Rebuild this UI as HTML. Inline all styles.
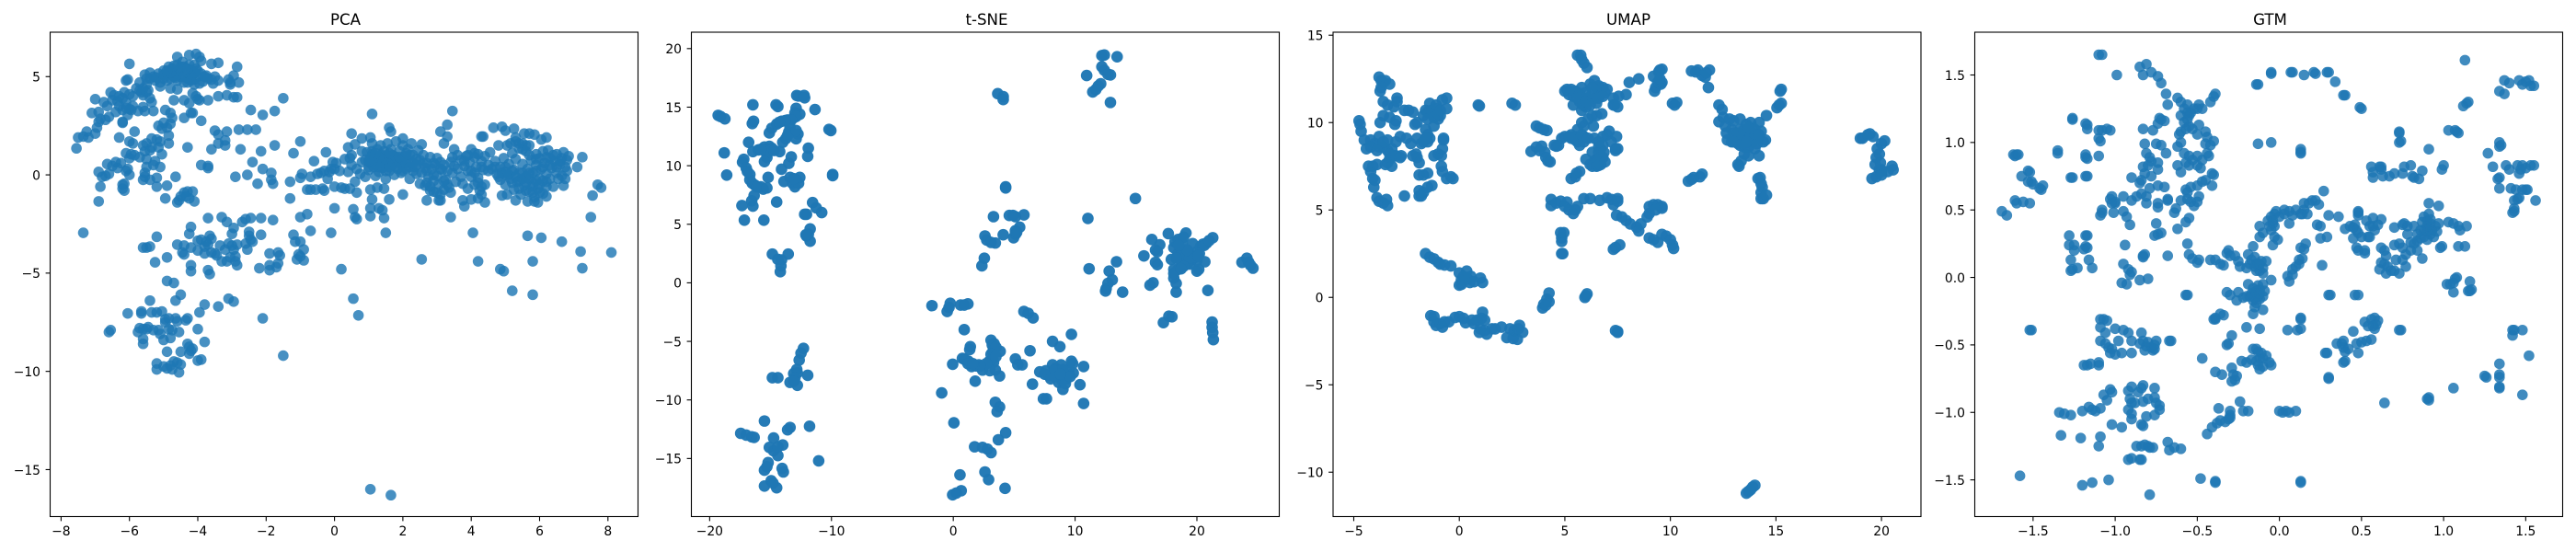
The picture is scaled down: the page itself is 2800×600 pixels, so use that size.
<!DOCTYPE html>
<html lang="en">
<head>
<meta charset="utf-8">
<title>Dimensionality reduction comparison</title>
<style>
html,body{margin:0;padding:0;background:#fff;}
svg{display:block;}
text{font-family:"DejaVu Sans","Liberation Sans",sans-serif;fill:#000;}
.title{font-size:16.67px;text-anchor:middle;}
.tick{font-size:13.89px;}
</style>
</head>
<body>
<svg id="chart" xmlns="http://www.w3.org/2000/svg" width="2800" height="600" viewBox="0 0 2800 600">
<rect x="0" y="0" width="2800" height="600" fill="#fff"/>
<text class="title" x="375.5" y="26.8">PCA</text>
<text class="title" x="1072.5" y="26.8">t-SNE</text>
<text class="title" x="1770" y="26.8">UMAP</text>
<text class="title" x="2467.5" y="26.8">GTM</text>
</svg>
<script>
const pcaXTicks = [-8,-6,-4,-2,0,2,4,6,8];
const pcaYTicks = [5,0,-5,-10,-15];
const tsneXTicks = [-20,-10,0,10,20];
const tsneYTicks = [20,15,10,5,0,-5,-10,-15];
const umapXTicks = [-5,0,5,10,15,20];
const umapYTicks = [15,10,5,0,-5,-10];
const gtmXTicks = [-1.5,-1,-0.5,0,0.5,1,1.5];
const gtmYTicks = [1.5,1,0.5,0,-0.5,-1,-1.5];

const pcaPoints = [
[-7.55,1.35],[-7.5,1.9],[-7.35,1.95],[-7.25,2.2],[-7.2,1.9],[-7,2.1],[-6.95,2.4],[-6.9,2.7],[-6.85,2.85],[-7.1,3.15],[-6.9,3.2],[-7,3.85],[-6.75,3.7],[-6.65,3.5],[-6.6,2.95],[-6.7,2.8],[-6.55,4.2],[-6.45,4.05],[-6.35,3.75],[-6.4,3.2],[-6.2,3.9],[-6.15,4.2],[-6.1,3.7],[-6.2,3.3],[-6.05,3.05],[-6,3.35],[-5.95,3.3],[-6.2,2.7],[-6.2,2.65],[-6.1,4.8],[-6.05,4.85],[-6,5.65],[-5.8,4.4],[-5.7,4.7],[-5.65,4.2],[-5.6,4.05],[-5.5,4.6],[-5.45,4.3],[-5.4,3.9],[-5.35,3.7],[-5.6,3.45],[-5.55,3.25],[-5.3,3.25],[-5.75,3.25],
[-6.5,3.8],[-6.3,3.5],[-6.1,3.4],[-5.9,3.5],[-5.9,4],[-5.7,4.3],[-5.5,4.2],[-6.3,4],[-6,4.1],[-5.6,4.4],
[-5.55,5.1],[-5.5,4.9],[-5.4,5.2],[-5.3,5],[-5.25,4.8],[-5.15,5.15],[-5.1,4.7],[-5,5.3],[-4.9,5.1],[-4.85,5.5],[-4.8,4.9],[-4.75,5.4],[-4.7,5.2],[-4.65,4.95],[-4.6,5.6],[-4.55,5.3],[-4.5,5],[-4.45,5.75],[-4.4,5.5],[-4.35,5.2],[-4.3,4.9],[-4.25,5.6],[-4.2,5.35],[-4.15,5.1],[-4.1,4.85],[-4.05,5.4],[-4,5],[-3.9,5.15],[-3.85,4.75],[-3.75,5.05],[-3.6,4.85],[-3.55,4.65],[-4.6,6],[-4.25,6.1],[-4.05,6.15],[-3.95,6],[-3.9,5.8],[-3.6,5.65],[-3.4,5.7],[-2.85,5.5],[-3.1,4.85],[-3.05,4.6],[-2.95,5.05],[-2.8,4.7],[-3.05,4.7],[-4.3,4.7],[-4.6,4.35],[-4.8,4.4],[-5.1,4.5],[-4.1,4.6],[-3.95,4.65],[-4.15,4.15],[-4.05,4],[-3.95,3.8],[-3.4,4],[-3.15,4.05],[-2.95,3.95],[-2.85,3.95],[-3.7,3.8],[-4.7,3.8],[-4.4,3.8],[-4.25,3.65],[-4,3.85],[-2.45,3.3],[-2.1,3.05],[-1.75,3.25],[-1.5,3.9],
[-5.4,4.9],[-5.2,4.95],[-5,4.9],[-5,5.1],[-4.9,4.8],[-4.7,5],[-4.6,5.1],[-4.6,4.8],[-4.4,5],[-4.4,4.7],[-4.2,5],[-4.2,4.8],[-4.1,5.2],[-4,5.3],[-3.8,5],[-3.7,4.9],[-4.8,5.2],[-4.5,5.5],[-4.3,5.4],[-4.1,5.6],[-4.7,5.55],[-4.9,5.3],[-3.5,5],[-3.4,4.8],
[-4.95,3.3],[-4.8,3.15],[-4.75,2.9],[-4.8,2.6],[-5,2.65],[-5.15,2.5],[-5.05,2.35],[-4.9,2.4],[-4.85,2],[-4.85,1.6],[-4.15,3.15],[-4.2,3.15],[-4.4,2.9],[-3.9,2.75],[-3.5,2.25],[-3.4,2.05],[-3.15,2.2],[-2.8,2.3],[-2.55,2.3],[-2.3,2.3],[-3.4,1.6],[-3.2,1.5],[-3.2,1.75],[-3.6,1.3],[-2.75,1.3],[-2.15,1.2],[-1.75,1.5],[-4.3,1.4],[-5.35,1.85],[-5.2,1.8],[-5.1,1.7],[-5.35,1.4],[-5.15,1.4],[-5.5,1.6],[-5.4,1.25],[-5.6,1.5],[-5.55,1.2],[-5.9,1.6],[-5.95,1.05],[-6.1,1.1],[-6,0.85],[-5.85,1],[-5.7,0.9],[-5.5,0.8],[-5.25,0.7],[-5.3,0.5],[-5.05,1.05],[-5.1,0.4],[-5.5,0.4],[-5.55,0.1],[-5.55,-0.1],[-5.6,-0.25],[-5.4,-0.25],[-5.2,-0.15],[-5.2,-0.6],[-4.9,-0.55],[-4.65,-0.1],[-6.05,0.3],[-6,0],[-6.1,0.2],[-6.25,0.6],[-6.4,0.65],[-6.35,0.35],[-6.5,0.45],[-6.65,0.55],[-6.6,0.05],[-6.7,-0.05],[-6.8,-0.1],[-6.9,0.15],[-6.85,-0.6],[-6.9,-1.35],[-6.2,-0.5],[-6.2,-0.7],[-6.15,-0.8],[-6.15,-0.45],[-6.3,1.9],[-6,1.7],[-5.85,2.2],
[-4.95,-1.2],[-4.6,-1.4],[-4.55,-1.3],[-4.5,-1.1],[-4.4,-0.9],[-4.3,-0.85],[-4.25,-1.2],[-4.15,-0.85],[-4.1,-1.35],[-4.35,-1.1],[-3.9,0.5],[-3.7,0.45],[-3.7,0.35],
[-2.9,-0.1],[-2.55,0],[-2.4,0.65],[-2.1,0.3],[-1.85,0.1],[-1.85,-0.25],[-1.8,-0.45],[-2.25,-0.45],[-1.3,-0.35],[-1.3,-1.2],[-1.2,1.1],[-1,-0.15],[-0.95,0.05],[-1,1.7],[-0.8,-0.75],[-0.7,-0.75],[-0.6,0.7],[-0.55,-0.75],[-0.7,-0.1],[-0.5,0.05],[-0.4,0.1],[-0.35,-0.7],[-0.3,0.2],[-0.25,1.15],[-0.3,-0.8],[-0.2,-0.2],[-0.15,0.15],[-0.1,0.3],[0,0.3],[0.05,0.6],[-0.05,0.65],[0,-0.6],[0.15,0.2],[0.2,-0.65],[0.3,0.8],[0.3,-0.7],[0.4,0.15],[0.45,0.85],[0.45,-0.7],[0.5,0.5],[0.5,1],[0.4,1.4],[0.5,2.1],[0.6,1.55],[0.65,0.3],[0.6,-0.35],[0.65,-0.9],[0.75,0.05],[0.8,0.65],[0.8,1.85],[0.8,1.2],[0.9,-0.1],
[1,0.4],[1.05,0.9],[1.05,1.9],[1.1,1.6],[1.1,3.1],[1.1,1.2],[1.05,-0.75],[1.1,-1.25],[1.05,-1.7],[1.05,-2.1],[1.25,-0.65],[1.3,-1.7],[1.45,-0.7],
[0.9,0.75],[0.95,1.15],[1,0.25],[1.05,0.6],[1.1,1.05],[1.15,0.4],[1.2,0.8],[1.2,-0.05],[1.25,1.3],[1.3,0.6],[1.3,0.15],[1.35,1],[1.35,1.5],[1.4,0.35],[1.45,0.75],[1.45,1.2],[1.5,-0.2],[1.5,0.5],[1.55,1.6],[1.55,1],[1.6,0.2],[1.6,0.75],[1.6,2.4],[1.65,2.2],[1.65,1.3],[1.7,0.5],[1.75,0],[1.75,0.95],[1.8,1.7],[1.85,0.3],[1.85,0.7],[1.9,1.2],[1.95,0.1],[2,0.55],[2,1.5],[2,1.85],[2.05,0.95],[2.1,0.3],[2.15,1.3],[2.2,0.7],[2.2,-0.2],[2.25,1.6],[2.3,1],[2.35,0.4],[2.4,0.05],[2.45,1.25],[2.5,0.75],[2.5,-0.45],[2.55,1.55],[2.6,1],[2.65,0.35],[2.65,-0.55],[2.55,0.1],
[1.2,0.5],[1.4,0.6],[1.4,1],[1.5,0.8],[1.5,0.2],[1.6,0.4],[1.7,1],[1.7,0.7],[1.8,0.4],[1.8,0.9],[1.9,0.6],[1.9,0.9],[2,0.2],[2,0.8],[2.1,0.6],[2.1,1.1],[2.2,0.4],[2.2,1],[2.3,0.6],[2.3,0.2],[1.3,0.9],[1.1,0.7],[1.3,0.4],[1.6,1.1],[1,0.7],[1.2,1.1],[2.4,0.8],[2.4,0.5],[2.6,0.6],[2.7,0.2],[2.9,0.6],[3.1,0.3],[2.7,-0.4],[2.9,0],[3.2,0.5],
[2.7,0.6],[2.75,-0.1],[2.8,-0.6],[2.8,0.9],[2.85,0.3],[2.9,-0.3],[2.9,-0.85],[2.95,0.5],[3,0.85],[3,-0.05],[3.05,-0.5],[3.1,-1],[3.1,0.65],[3.15,0.25],[3.2,-0.75],[3.25,-0.25],[3.3,0.2],[3.35,-0.65],[3.4,0.65],[3.4,-0.9],[3.45,0.9],[3.45,0.1],[3.5,1.3],[3.5,0.45],[3.55,-0.35],
[3.6,1],[3.6,0.3],[3.7,-0.1],[3.7,0.75],[3.75,-0.45],[3.8,0.45],[3.85,0.95],[3.9,0.2],[3.9,-0.7],[3.95,0.65],[4,1.3],[4,-0.1],[4.1,0.9],[4.1,-0.5],[4.15,0.4],[4.2,1.05],[4.2,-0.15],[4.25,-0.8],[4.3,0.7],[4.3,-1],[4.35,0.25],[4.4,0.95],[4.4,-0.5],[4.5,0.5],[4.55,1.15],[4.6,0.3],[4.7,0.7],[4.75,0.05],[4.8,1.5],[4.85,0.4],[4.85,-0.25],[4.9,-1.05],[4.95,0.85],[5,0.15],[5,-0.5],[5.05,1.5],[5.05,-1],[5.1,0.55],[5.15,1.6],[5.15,-0.2],[5.2,1.1],[5.25,0.25],[5.25,-0.75],[5.3,0.8],[5.3,1.7],[5.35,-0.35],[5.4,1.35],[5.4,0.1],[5.45,-1],[5.5,0.55],[5.5,1.6],[5.55,-0.55],[5.6,1.2],[5.6,-0.1],[5.65,0.3],[5.7,-0.85],[5.7,1.5],[5.75,0.75],[5.8,-0.4],[5.8,0.1],[5.85,-1.15],[5.9,1.05],[5.9,0.5],[5.95,-0.7],[6,-0.2],[6,0.85],[6.05,0.3],[6.1,-0.95],[6.1,1.2],[6.15,0.6],[6.2,-0.35],[6.2,0.05],[6.25,1.25],[6.3,0.85],[6.35,0.35],[6.4,-0.6],[6.45,0.7],[6.5,1.05],[6.5,0.1],[6.55,-0.2],[6.6,0.55],[6.65,0.85],[6.7,1.15],[6.75,-0.2],[6.8,0.75],[6.85,0.95],[6.65,-0.05],[6.75,0.4],
[3.8,0.7],[3.9,1],[4.1,1.1],[4.3,0.4],[4.5,0.2],[4.7,0.4],[4.9,0.1],[5,0.4],[5.1,0],[5.2,0.2],[5.3,-0.1],[5.4,-0.3],[5.5,-0.2],[5.6,-0.4],[5.7,-0.2],[5.8,-0.6],[5.9,-0.3],[6,-0.5],[6.1,-0.3],[6.2,-0.6],[6.3,-0.2],[5.5,0.1],[5.7,0.1],[5.9,0.2],[6.1,0.4],[6.3,0.5],[6.5,0.4],[5.5,1.3],[5.6,1.5],[5.4,1.6],[5.7,1],[5.9,0.8],[6.2,0.9],[6.4,1],[6.6,0.7],[5.2,-0.4],[5.4,-0.7],[5.6,-0.8],[5.8,-0.9],[6,-0.9],[5,0],[4.8,-0.1],[3.3,-0.5],[3.2,-0.3],[2.8,-0.8],[3,-0.9],[4.3,-0.6],[4.2,-0.4],[4.1,0.1],[4,0.2],
[3.45,3.25],[3.3,2.55],[3.1,2.2],[3.3,1.95],[3.2,1.6],[4.3,1.95],[4.35,1.95],[4.65,2.4],[4.9,2.45],[5,2.25],[5.25,2.35],[5.55,2.1],[5.7,2.1],[5.85,2.05],[6.05,1.8],[6.2,1.9],[5.3,1.9],
[3.4,-2.15],[4.05,-2.95],[5.65,-3.1],[6.05,-3.2],[6.65,-3.4],[7.2,-3.9],[8.1,-3.95],[7.25,-4.75],[5.8,-4.4],[4.2,-4.4],[4.85,-4.8],[4.95,-4.9],[5.2,-5.9],[5.8,-6.1],[2.55,-4.3],[0.2,-4.8],[0.55,-6.3],[0.7,-7.15],[-1.5,-9.2],[1.05,-16],[1.65,-16.3],[-7.35,-2.95],[-0.1,-2.95],[1.5,-2.95],[0,-1.7],[0.55,-1.75],[0.6,-2.15],[0.65,-2.25],[1.4,-1.8],[1.45,-2.2],[1.6,-1.25],[2,-1],[2.7,-1.3],[3.05,-1.3],[3.1,-1.3],[3.75,-1.3],[3.8,-1.6],[4,-1.25],[4.2,-1.2],[4.4,-1.4],[5.3,-1.3],[5.65,-1.35],[5.85,-1.35],[5.95,-1.4],[6.2,-1.1],[6.7,-0.55],[6.8,0.2],[7.1,0.4],[7.25,0.9],[7.5,-2.15],[7.55,-1.05],[7.7,-0.5],[7.8,-0.65],[-0.8,-2],[-1,-2.15],[-0.7,-2.85],
[-3.7,-2.2],[-3.3,-2.15],[-3.15,-2.4],[-2.95,-2.7],[-3,-3],[-2.7,-2.4],[-2.6,-2.25],[-2.45,-2.2],[-2.15,-2.2],[-1.8,-2.3],[-2.15,-3.05],[-2.5,-2.9],[-2.5,-3.1],[-2.45,-3.3],[-2.4,-3.4],[-2.6,-3.5],[-2.55,-3.8],[-4.2,-2.65],[-4.25,-3],[-4.6,-3.55],[-4.4,-3.6],[-4.45,-3.95],[-4.4,-4.05],[-4.2,-3.7],[-4,-3.85],[-4,-3.35],[-3.9,-3.3],[-3.75,-3.4],[-3.65,-3.1],[-3.6,-3.25],[-3.7,-3.55],[-3.8,-3.65],[-3.8,-4],[-3.6,-3.95],[-3.5,-4],[-3.45,-4.1],[-3.35,-3.6],[-3.2,-3.8],[-3.1,-3.5],[-3,-3.6],[-2.95,-3.8],[-2.85,-3.55],[-3.05,-4.2],[-3.15,-4.4],[-3.3,-4.4],[-2.9,-4.4],[-2.85,-4.6],[-2.9,-4.15],[-1.9,-4],[-1.65,-3.95],[-1.6,-4.1],[-2.2,-4.75],[-1.9,-4.6],[-1.9,-4.85],[-1.7,-4.7],[-1.65,-4.5],[-1.2,-3.05],[-1.15,-3.4],[-1,-3.4],[-0.9,-3.8],[-1.05,-4.05],[-1.1,-4.3],[-1,-4.15],[-0.9,-4.35],
[-4.2,-4.6],[-4.2,-4.9],[-3.7,-4.85],[-3.65,-5.05],[-5.6,-3.7],[-5.5,-3.7],[-5.4,-3.65],[-5.2,-3.15],[-5.25,-4.45],[-4.9,-4.2],[-4.9,-5.4],[-4.7,-5.5],[-4.65,-6.4],[-4.5,-6.1],[-5.4,-6.4],[-3.8,-6.6],[-3.4,-6.7],[-3.1,-6.3],[-2.95,-6.45],[-2.1,-7.3],[-3.95,-7],
[-6.05,-7.05],[-5.65,-6.95],[-5.65,-7.05],[-5.35,-7],[-5.2,-7],[-5.05,-6.95],[-4.95,-7.35],[-4.95,-7.5],[-4.85,-7.3],[-4.65,-7.3],[-4.6,-7.45],[-4.35,-7.4],[-4.3,-7.3],[-4,-7.85],[-6.6,-8],[-6.55,-7.9],[-5.75,-8],[-5.7,-7.8],[-5.6,-7.85],[-5.5,-7.85],[-5.45,-7.75],[-5.3,-7.9],[-5.15,-7.9],[-5.1,-8.1],[-5,-8.4],[-4.85,-7.85],[-4.8,-8.3],[-4.75,-7.9],[-4.55,-8],[-5.6,-8.35],[-5.6,-8.6],[-3.8,-8.5],[-4.9,-9],[-4.5,-9],[-4.3,-8.6],[-4.25,-8.75],[-4.2,-8.95],[-4.15,-8.85],[-4.25,-9.1],[-5.2,-9.6],[-5.2,-9.9],[-5,-9.75],[-4.9,-9.85],[-4.8,-9.7],[-4.75,-9.9],[-4.7,-9.5],[-4.6,-9.55],[-4.5,-9.65],[-4.55,-10.05],[-4,-9.45],[-3.9,-9.4]
];

const tsnePoints = [
[-19.3,14.3],[-19.1,14.2],[-18.75,14],[-18.8,11.1],[-18.6,9.2],[-16.45,15.2],[-16.5,13.6],[-16.4,13.8],[-14.55,15.2],[-14.4,15.05],[-12.85,16],[-12.7,15.95],[-12.25,16],[-12.2,15.8],[-11.35,14.8],[-12.9,14.9],[-12.6,14.4],[-13.1,14.1],[-13.6,13.9],[-14.1,13.8],[-14.5,13.55],[-14.9,13.2],[-15.1,12.8],[-13.4,13.3],[-13.5,12.9],[-12.75,12.7],[-12.9,12.3],[-13.75,12.3],[-14,12],[-10.2,13.1],[-10.05,13],[-16.8,12],[-16.45,11.2],[-16,11.35],[-15.5,11.6],[-15.1,11.65],[-14.9,11.5],[-15.6,11.35],[-15.3,11],[-14.25,11.2],[-11.9,11.5],[-11.95,10.8],[-13.3,10.75],[-13.5,10.2],[-14.1,9.7],[-15.3,10.7],[-15.5,10.35],[-17.2,10.55],[-17.3,10.3],[-17,9.8],[-16.7,9.25],[-16.7,8.8],[-16.3,8.35],[-15.8,8.2],[-15.6,8],[-15.2,9],[-13.9,8.65],[-13.4,9],[-12.9,8.8],[-12.6,9],[-13,8.2],[-9.9,9.25],[-9.9,9.15],[-16.35,7.45],[-16.55,7],[-16.45,6.55],[-17.35,6.6],[-17.15,5.35],[-15.55,5.35],[-14.5,6.9],[-11.55,6.85],[-11.25,6.4],[-10.8,6],[-12.05,5.85],[-12.2,5.85],[-11.75,4.6],[-11.9,4.15],[-12.05,4],[-11.75,3.55],[-14.85,2.45],[-13.55,2.45],[-14.1,1.95],[-14.15,1.45],[-14.2,0.95],[-14.4,2],
[-15,11.3],[-15.8,11.4],[-14.7,11.3],[-16.9,9.5],[-16.5,8.5],[-16.1,8.2],[-13.2,8.5],[-13,14.5],[-12.9,14.2],[-13.3,13.9],[-13.8,13.85],[-14.3,13.7],[-13.6,12.6],[-12.9,13],[-12.7,8.5],[-15.3,8.1],[-13.1,8.9],[-12.1,4.1],
[3.65,16.15],[4.1,15.9],[4.1,15.65],[4.3,8.2],[4.3,8.1],[3.3,5.65],[4.6,5.75],[5.1,5.65],[5.8,5.8],[5.45,4.75],[5.1,4.45],[5.1,4.15],[4.95,3.85],[4.1,4.1],[2.6,4],[2.75,3.65],[3.1,3.45],[3.45,3.4],[2.55,2.1],[2.35,1.45],[4.9,5.75],[5.2,4.3],
[10.95,17.7],[12.2,19.4],[12.4,19.45],[13.45,19.3],[12.2,18.45],[12.4,18.15],[12.9,17.75],[12.1,17],[11.9,16.8],[11.45,16.3],[12.9,15.4],[12.7,17.8],[11.7,16.5],
[14.95,7.2],[11.05,5.5],[11.15,1.2],[13.4,1.8],[12.8,1],[13.05,0.25],[12.7,-0.05],[12.55,-0.5],[12.5,-0.7],[13.9,-0.8],
[15.65,2.3],[16.3,3.7],[16.6,2.8],[16.95,3.25],[16.75,2.65],[16.6,1.75],[16.75,1.55],[16.15,-0.2],[16.4,0],[17.65,4.2],[17.9,2],[18.1,3],[18.45,3.7],[19.1,4.25],[18.8,3.4],[19.65,3.35],[18.45,2.5],[18.95,2.8],[19.1,2.2],[18.8,1.75],[19.45,1.6],[20,1],[20.15,1.15],[18.45,1.15],[18.1,1.15],[18.1,0.4],[18.3,-0.05],[18.3,-0.8],[20,1.9],[20.65,1.8],[20,2.65],[20.3,3.1],[20.8,3.4],[21.3,3.85],[20.9,-0.65],[18.6,2],[19.4,2.5],[19.6,2],[18.2,3.5],[18.9,3.9],[19.3,1.9],[18.7,2.3],[19.9,2.2],[20.5,3.3],[18.1,0.8],
[18.8,2.7],[18.9,2.1],[19.2,1.6],[19.4,2.1],[18.9,1.4],[19.2,2.8],[18.5,3.2],[18.3,2.1],[20.2,2.5],[20.1,2.3],[20.6,3.2],[21,3.6],[18.7,1.2],
[23.7,1.75],[24.1,2.1],[24.25,1.75],[24.6,1.25],[24.4,1.5],
[17.7,-2.85],[17.95,-2.9],[17.25,-3.4],[21.25,-3.35],[21.25,-3.8],[21.3,-4.25],[21.35,-4.85],
[-12.3,-5.6],[-12.5,-6],[-12.65,-6.6],[-12.85,-7.4],[-13.1,-7.75],[-12.8,-7.7],[-13,-8.1],[-11.95,-7.9],[-14.85,-8.1],[-14.4,-8.1],[-13.4,-8.5],[-12.8,-8.75],[-13.1,-8.4],
[-15.5,-11.8],[-11.8,-12.25],[-17.45,-12.85],[-16.55,-13.15],[-16.35,-13.2],[-13.4,-12.35],[-13.6,-12.55],[-14.75,-13.25],[-15.1,-14.05],[-14.75,-14.35],[-14,-13.85],[-14.4,-14.75],[-11.05,-15.2],[-15.2,-15.35],[-15.5,-16],[-14.05,-15.85],[-13.95,-16.15],[-15.5,-17.35],[-14.95,-16.9],[-14.5,-17.5],[-15.3,-15.7],[-14.8,-17.1],[-14.4,-14],[-17,-13],
[-1.75,-1.95],[-0.25,-1.75],[-0.5,-2.45],[-0.35,-2.1],[0.6,-1.9],[1.2,-1.8],[0.9,-1.9],[5.8,-2.45],[6.15,-2.6],[6.55,-3],[0.9,-4],[1.4,-5.45],[1.35,-5.7],[3.1,-4.9],[3.35,-5.2],[3.25,-5.9],[3.85,-5.85],[3.25,-6.5],[3.3,-6.8],[-0.05,-6.95],[0.75,-6.45],[1.25,-6.7],[1.5,-7.15],[2.1,-7],[2.4,-7.45],[2.95,-6.7],[3.45,-7.45],[3.8,-7.95],[1.8,-8.4],[-0.95,-9.4],[6.3,-5.8],[5.1,-6.5],[5.3,-7],[5.65,-7],[3,-7.5],[1,-6.6],[1.9,-7.1],[3.3,-5.6],
[3.2,-5.3],[3.5,-5.5],[3.1,-6.1],[3.5,-6.3],[2.7,-6.9],[2.2,-7.1],[1.7,-7],[0.9,-6.5],[1.2,-6.9],[1.6,-6.9],
[8.15,-5],[8.75,-5.45],[9.7,-4.4],[9.7,-6.7],[10.7,-7.15],[10.4,-8.7],[10.7,-10.3],[6.5,-8.65],[7.1,-7.6],[7.4,-9.9],[7.65,-9.9],[8.15,-7],[8.85,-7],[7.8,-7.9],[8.5,-7.9],[9.15,-7.75],[9.85,-7.7],[8.65,-8.5],[9,-9.1],[9.5,-7.4],[8.4,-7.3],[8.9,-8.3],[7.6,-7.5],[9.3,-8.2],[9.8,-6.9],
[8.3,-8],[8.7,-7.5],[8.3,-7.5],[9,-7.4],[7.5,-7.8],[8,-8.2],[9.2,-8.6],[9.6,-8],[8.8,-7.8],
[3.45,-10.2],[3.8,-10.6],[3.6,-11],[0.05,-11.95],[4.3,-12.8],[3.7,-13.4],[1.75,-14],[2.4,-14.05],[3.1,-14.5],[2.6,-16.15],[2.9,-16.8],[0.55,-16.4],[4.25,-17.55],[0.65,-17.75],[-0.05,-18.1],[0.25,-17.95],[2.8,-14.2]
];

const umapPoints = [
[-4.75,10.1],[-4.7,9.9],[-4.65,9.5],[-4.5,9],[-4.4,8.5],[-4.2,9],[-4,8.8],[-3.8,9.2],[-3.6,8.6],[-3.4,9],[-3.2,8.5],[-3,8.9],[-2.8,9.2],[-2.5,9.1],[-2.3,8.8],[-2,9.1],[-1.8,8.8],[-1.5,9.3],[-1.6,9.6],[-1.4,9.1],
[-4.2,8.6],[-3.8,8.6],[-3.4,8.4],[-3.6,8.9],[-3.9,8.4],[-3.3,8.2],[-3.4,7.7],[-3.1,8.1],[-1.3,10.5],[-1,10.2],[-0.9,10.4],[-1.5,10.6],[-1.1,10.8],[-1.7,8.9],[-1.5,8.9],[-1.6,9.1],
[-3.8,12.6],[-3.7,12.4],[-3.6,12.3],[-3.5,12.4],[-3.3,12.2],[-3.7,12],[-3.75,11.8],[-3.6,11.2],[-3.4,11],[-3.1,10.9],[-2.95,11.4],[-2.95,11.2],[-2.6,10.7],[-2.4,10.7],[-2.2,10.6],[-3.75,10],[-3.6,10.4],[-3.3,10.3],[-3,10.1],[-3.05,9.9],[-2.1,9.9],[-2,10],[-1.7,10.4],[-1.6,10.7],[-1.5,10.2],[-1.4,11.1],[-1.3,10.7],[-1.2,10.3],[-1.1,11],[-1,10.5],[-1.2,9.8],[-0.9,10.7],[-0.8,11.3],[-0.6,11.4],[-0.6,10.8],
[-4.3,7.5],[-4.2,7.2],[-4.1,7.5],[-4.1,6.8],[-4.05,6.3],[-4,6.7],[-3.9,5.7],[-3.8,5.5],[-3.6,5.4],[-3.45,5.6],[-3.4,5.25],[-2.6,5.8],[-3.9,7.6],[-3.5,7.6],[-3.3,7.9],[-3.2,7.5],[-3,8.1],[-2.8,8],[-2.75,8.1],[-2.2,8.1],[-2.05,8.2],[-2,8],[-1.9,7.7],[-1.9,7],[-1.7,7],[-1.5,7.1],[-1.9,6.1],[-1.8,5.8],[-1.9,5.8],[-1.7,6],[-1.5,6.3],[-1.3,6.4],[-1.2,8.1],[-1,8.2],[-0.85,8.1],[-0.8,8.5],[-0.75,9],[-0.75,9.1],[-0.85,7.5],[-0.8,7.2],[-0.6,6.8],[-0.4,6.9],[-0.3,6.8],
[0.9,11],[0.95,10.95],[2.5,11.1],[2.65,11],
[-1.6,2.5],[-1.4,2.3],[-1.2,2.2],[-1,2],[-0.9,1.9],[-0.7,1.85],[-0.4,1.8],[0,1.4],[0.1,1],[0,0.7],[0.1,0.75],[0.2,1.2],[0.35,1.5],[0.4,1.05],[0.5,0.85],[0.55,1.2],[0.7,0.9],[1,1.1],[1.1,0.85],
[-1.35,-1.05],[-1.2,-1.1],[-1.2,-1.4],[-1.1,-1.6],[-0.9,-1.5],[-0.8,-1.7],[-0.7,-1.4],[-0.5,-1.4],[-0.2,-1.15],[0,-1.1],[0.2,-1.2],[0.3,-1.45],[0.6,-1.3],[0.7,-1.5],[0.85,-1.3],[1,-1.8],[1.05,-1.2],[1.1,-0.85],[1.2,-1.3],[1.2,-1.9],[1.3,-2.1],[0.95,-2],[1.55,-1.8],[1.7,-1.8],[2,-1.7],[2.25,-2.3],[2.4,-1.8],[2.55,-2.35],[2.6,-1.9],[2.75,-2.4],[2.8,-1.8],[2.85,-1.6],[3,-2],
[3.95,-0.6],[4,-0.4],[4.1,-0.45],[4.15,-0.1],[4.25,-0.25],[4.25,0.25],[5.95,0],[6,0.1],[6.05,0.2],[7.4,-1.9],[7.5,-2],[7.5,-1.95],
[13.6,-11.2],[13.7,-11.1],[13.8,-11],[13.9,-10.85],[14,-10.75],
[4.35,5.6],[4.35,5.25],[4.6,5.4],[4.8,5.5],[5,5.2],[5.1,5.45],[5.2,5],[5.4,4.8],[5.5,5],[5.6,5.2],[5.9,5.65],[6.2,5.65],[6.65,5.55],[7,5.7],[7.2,5.6],[7.3,5.3],[7.5,5.65],[7.5,5.5],
[7.45,4.7],[7.7,4.6],[7.9,4.4],[8.1,4.2],[8.4,4],[8.5,3.8],[8.6,4.2],[8.9,4.6],[9,4.8],[9,5.2],[9.2,5.3],[9.4,5.3],[9.6,5.2],[9.6,5.1],[9.3,5],
[4.8,3.7],[4.85,3.4],[4.85,3.2],[4.95,3.7],[4.85,2.5],[4.9,2.5],[7.3,2.75],[7.4,2.85],[7.6,3],
[9,3.4],[9.2,3.3],[9.4,3.15],[9.6,3.6],[9.8,3.5],[10,3.3],[10.1,3],[10.15,2.8],
[5.6,13.85],[5.75,13.85],[5.8,13.6],[5.9,13.4],[6.05,13.15],
[5,11.8],[5.1,11.9],[5.2,11.6],[5.3,11.9],[5.4,11.5],[5.4,11],[5.6,11.7],[5.7,11.2],[5.8,10.7],[5.8,12],[5.95,11.7],[6,10.9],[6.1,11.4],[6.2,12.2],[6.3,10.4],[6.4,12.4],[6.4,11.4],[6.5,12],[6.5,11.1],[6.6,12.1],[6.65,11.6],[6.7,11.8],[6.8,12],[6.9,11.7],[7,11.9],[6.5,10.4],[6.75,10.5],[6.1,10.2],[6.35,9.8],[5.9,9.8],[5.8,10],
[5.5,11.8],[5.7,11.6],[5.9,11.4],[5.6,11.4],[5.85,11],[6,11.2],[6.2,11],[6.3,11.7],[6.3,12],[6.6,11.4],[6.8,11.5],[5.3,9.1],[5.5,9],[5.7,9.1],[5.9,9.2],[5.6,8.9],[6.7,8.5],[6.6,8.6],[6.5,7.9],[6.8,8],[6.4,7.8],
[7.3,11.4],[7.3,11],[7.35,11],[7.5,10.9],[7.55,11.5],[7.9,11.6],[8.05,12.3],[8.5,12.5],
[5,9.2],[4.85,9.1],[5.2,9.2],[5.3,9.3],[5.5,9.2],[5.6,9.6],[5.7,8.7],[5.8,9.3],[5.9,8.9],[6.1,9.1],[4.5,8.7],[4.6,8.65],[4.7,8.7],
[6,7.9],[6.2,7.6],[6.3,8.3],[6.3,7.5],[6.5,7.5],[6.6,8.3],[6.6,7.8],[6.6,7.55],[6.7,8],[6.8,8.7],[6.85,8.3],[6.7,7.6],[6.9,7.75],[6.4,9.1],[6.6,8.9],[6.8,9.2],[7,9.3],[7.1,9.5],[7.2,8.9],[7.4,8.5],[7.45,9.2],[7.5,8.5],[7.4,8.4],
[5.3,6.8],[5.5,6.9],[5.55,7.1],[5.7,7.2],
[3.65,9.8],[3.8,9.7],[4,9.6],[4.15,9.55],[3.4,8.35],[3.65,8.6],[3.8,8.4],[3.9,8.65],[4.05,8.3],[4.1,8],[4.2,7.8],[4.3,7.75],
[9.2,12.65],[9.45,12.9],[9.5,13],[9.6,13.05],[9.3,12],[9.25,11.8],[9.4,12.3],[9.55,12.2],[9.6,12.3],[9.5,12.5],
[10.1,11.1],[10.2,11],[10.3,11.15],[11,12.95],[11.2,12.9],[11.3,13],[11.5,12.7],[11.65,12.6],[11.7,12.85],[11.85,13],[11.8,12],
[12.3,11],[12.45,10.75],[12.3,10.05],[12.5,10.3],[12.6,9.8],[12.65,9.4],[12.7,9],[12.8,10.2],[12.9,9.6],[12.9,8.9],[13,10.1],[13.1,9.2],[13.2,8.8],[13.3,10.2],[13.3,9.6],[13.4,9],[13.5,8.6],[13.6,9.9],[13.6,9.3],[13.7,8.6],[13.8,10],[13.85,9.4],[13.9,8.9],[14,8.5],[14,9.6],[14.15,9.1],[14.2,10],[14.3,9.5],[14.4,8.9],[14.5,9],[14.55,10.4],[14.2,8.1],[13.7,8.1],[13.5,8.2],[13.35,7.8],[13.25,7.5],[13.2,7.6],
[13,9.4],[13.2,9.4],[13.4,9.3],[13.5,9.6],[13.7,9],[13.8,9.2],[14,9.2],[14.1,8.8],[13.9,9.7],[14.2,9.3],[13,8.9],[13.3,8.7],[13.6,8.9],[13.7,9.7],
[15.05,10.85],[15.15,11],[15.25,11.1],[15.2,11.8],[15.25,11.9],
[10.85,6.65],[11,6.75],[11.1,6.85],[11.4,6.9],[11.5,7.05],
[14.15,6.8],[14.25,6.85],[14.3,6.5],[14.35,6.3],[14.3,6],[14.3,5.65],[14.4,5.65],[14.55,5.85],
[19,9.1],[19.1,9.1],[19.35,9.3],[19.45,9.35],[19.6,9.2],[19.8,8.5],[19.75,8],[19.9,8.2],[20,8.8],[20.15,8.95],[19.7,7.6],[19.9,7.3],[19.95,7.7],[20,7.3],[19.55,6.8],[19.75,6.9],[20,7.2],[20,7],[20.5,7.5],[20.55,7.3],[20.3,7.2]
];

const gtmPoints = [
[-1.1,1.65],[-1.08,1.65],[-0.99,1.5],[-0.85,1.56],[-0.81,1.58],[-0.83,1.5],[-0.78,1.52],[-0.74,1.49],[-0.72,1.44],[-0.69,1.36],[-0.68,1.28],[-0.62,1.33],
[-0.6,1.3],[-0.58,1.25],[-0.56,1.28],[-0.55,1.2],[-0.6,1.2],[-0.58,1.15],[-0.52,1.25],[-0.5,1.25],[-0.49,1.28],[-0.47,1.25],[-0.57,1.1],[-0.6,1.08],[-0.55,1.12],[-0.53,1.1],[-0.49,1.13],[-0.56,1.22],[-0.56,1.17],[-0.54,1.22],
[-0.39,1.36],[-0.4,1.34],[-0.42,1.3],[-0.73,1.18],[-0.72,1.17],[-0.74,1.14],[-0.7,1.16],[-0.83,1.1],[-0.77,1.09],[-0.82,0.99],[-0.75,0.99],[-0.72,0.98],[-0.69,0.92],
[-0.5,1.06],[-0.45,1.08],[-0.44,1.04],[-0.4,1.01],[-0.45,0.99],[-0.42,0.98],[-0.61,1.06],[-0.6,1],[-0.62,0.97],
[-0.58,0.92],[-0.55,0.9],[-0.53,0.87],[-0.5,0.9],[-0.47,0.87],[-0.44,0.92],[-0.43,0.9],[-0.5,0.83],[-0.55,0.83],[-0.57,0.85],[-0.62,0.83],[-0.6,0.78],[-0.48,0.81],
[-0.81,0.92],[-0.79,0.89],[-0.78,0.86],[-0.8,0.83],[-0.83,0.82],[-0.82,0.77],[-0.84,0.72],[-0.85,0.7],[-0.78,0.75],[-0.74,0.85],[-0.74,0.8],[-0.84,0.62],[-0.79,0.66],[-0.81,0.6],[-0.81,0.55],[-0.87,0.6],[-0.9,0.57],[-0.74,0.55],[-0.74,0.52],[-0.74,0.68],[-0.7,0.67],[-0.68,0.58],[-0.68,0.57],
[-0.9,0.74],[-0.64,0.48],[-0.63,0.51],[-0.6,0.57],[-0.57,0.65],[-0.56,0.63],[-0.54,0.67],[-0.5,0.68],[-0.47,0.71],[-0.45,0.72],[-0.41,0.77],[-0.4,0.76],[-0.41,0.68],[-0.49,0.6],[-0.5,0.56],[-0.52,0.53],[-0.54,0.56],[-0.56,0.58],[-0.55,0.44],[-0.57,0.41],[-0.62,0.36],[-0.75,0.4],[-0.74,0.32],[-0.76,0.31],[-0.72,0.33],
[-1.03,0.58],[-1.02,0.6],[-1,0.56],[-0.95,0.6],[-1.01,0.48],[-1.08,0.48],[-1.09,0.46],[-1.08,0.5],[-0.95,0.49],[-0.93,0.45],[-0.91,0.39],[-1,0.55],[-1.02,0.55],
[-1.6,0.91],[-1.62,0.91],[-1.61,0.9],[-1.59,0.91],[-1.53,0.79],[-1.52,0.78],[-1.57,0.75],[-1.53,0.71],[-1.51,0.71],[-1.5,0.69],[-1.46,0.66],[-1.45,0.65],[-1.44,0.68],[-1.61,0.57],[-1.6,0.55],[-1.56,0.56],[-1.52,0.55],[-1.69,0.49],[-1.66,0.46],
[-1.35,0.94],[-1.35,0.92],[-1.26,1.17],[-1.26,1.18],[-1.18,1.14],[-1.17,1.13],[-1.17,1.1],[-1.26,0.74],[-1.27,0.74],[-1.17,0.75],[-1.18,0.75],[-1.18,0.91],[-1.18,0.89],[-1.17,0.88],[-1.1,0.9],[-1.1,1.09],[-1.08,1.09],[-1.05,1.1],[-1.03,1.09],[-1.1,1.03],[-1.09,1.01],
[-1.28,0.31],[-1.28,0.24],[-1.25,0.24],[-1.25,0.2],[-1.19,0.21],[-1.18,0.23],[-1.17,0.22],[-1.18,0.31],[-1.17,0.31],[-1.27,0.13],[-1.26,0.06],[-1.27,0.05],[-1.23,0.07],[-1.16,0.13],[-1.14,0.07],
[-0.94,0.24],[-0.95,0.1],[-0.92,0.06],[-0.91,0.02],[-0.9,0.04],[-0.96,-0.04],[-0.93,-0.05],[-0.85,-0.02],[-0.8,-0.01],[-0.83,0.16],[-0.82,0.17],[-0.83,0.15],[-0.68,0.16],
[-0.56,0.25],[-0.55,0.17],[-0.53,0.14],[-0.5,0.11],[-0.49,0.13],[-0.42,0.13],[-0.39,0.13],[-0.36,0.1],[-0.34,0.09],[-0.32,0.18],[-0.31,0.2],[-0.3,0.16],[-0.27,0.16],[-0.25,0.12],[-0.24,0.08],
[-0.19,0.17],[-0.17,0.13],[-0.18,0.1],[-0.15,0.15],[-0.15,0.08],[-0.13,0.1],[-0.12,0.05],[-0.11,0.12],[-0.1,0.07],[-0.08,0.12],[-0.1,0.03],[-0.14,0.05],[-0.2,0.07],[-0.16,0.23],[-0.14,0.1],[-0.12,0.1],
[-0.19,-0.05],[-0.16,-0.08],[-0.15,-0.11],[-0.13,-0.06],[-0.12,-0.09],[-0.1,-0.05],[-0.09,-0.1],[-0.05,-0.02],[-0.25,-0.11],[-0.22,-0.15],[-0.2,-0.14],[-0.18,-0.14],[-0.16,-0.17],[-0.14,-0.19],[-0.12,-0.16],[-0.15,-0.22],[-0.13,-0.14],[-0.1,-0.14],[-0.32,-0.11],[-0.3,-0.13],[-0.26,-0.17],[-0.16,-0.27],[-0.1,-0.24],[-0.14,-0.12],[-0.15,-0.15],[-0.14,-0.1],[-0.17,-0.12],[-0.12,-0.12],
[-0.4,-0.31],[-0.39,-0.3],[-0.36,-0.27],[-0.34,-0.28],[-0.39,-0.31],[-0.2,-0.37],[-0.12,-0.38],[-0.29,-0.43],[-0.31,-0.49],[-0.32,-0.5],
[-0.16,-0.53],[-0.14,-0.53],[-0.13,-0.55],[-0.11,-0.56],[-0.12,-0.6],[-0.1,-0.6],[-0.08,-0.58],[-0.06,-0.63],[-0.05,-0.65],[-0.13,-0.65],[-0.12,-0.68],[-0.1,-0.66],[-0.2,-0.63],[-0.17,-0.61],[-0.23,-0.62],[-0.14,-0.62],
[-0.47,-0.6],[-0.39,-0.7],[-0.35,-0.72],[-0.29,-0.67],[-0.28,-0.72],[-0.27,-0.76],[-0.29,-0.77],[-0.26,-0.73],[-0.24,-0.92],[-0.37,-0.97],[-0.3,-0.99],[-0.19,-0.99],[-0.22,-0.99],[-0.36,-1.06],[-0.33,-1.07],[-0.31,-1.05],[-0.3,-1.04],[-0.3,-1.02],[-0.38,-1.08],[-0.41,-1.11],[-0.44,-1.16],
[0,-0.99],[0.02,-1],[0.04,-0.99],[0.06,-1],[0.1,-0.99],
[-1.09,-0.31],[-1.07,-0.31],[-1.05,-0.32],[-1.09,-0.37],[-1.06,-0.41],[-1,-0.38],[-0.95,-0.39],[-0.9,-0.47],[-0.98,-0.47],[-0.92,-0.41],[-1.09,-0.47],[-1.06,-0.49],[-1.04,-0.52],[-1.02,-0.53],[-1.03,-0.56],[-1,-0.57],[-0.96,-0.56],[-0.9,-0.56],[-0.84,-0.41],[-0.85,-0.49],[-0.83,-0.47],[-0.81,-0.51],[-0.8,-0.48],[-0.78,-0.52],[-0.77,-0.54],[-0.75,-0.47],[-0.76,-0.5],[-0.67,-0.47],[-0.66,-0.47],[-0.82,-0.54],[-0.76,-0.53],
[-1.19,-0.65],[-1.17,-0.65],[-1.15,-0.64],[-1.1,-0.65],[-1.1,-0.63],[-1.07,-0.87],[-1.03,-0.83],[-1.02,-0.85],[-1.05,-0.91],[-1.09,-0.97],[-1.12,-0.99],[-1.14,-0.98],[-1.16,-0.96],[-1.2,-0.99],[-1.34,-1],[-1.31,-1.01],[-1.27,-1.02],[-1.33,-1.17],[-1.21,-1.19],[-1.09,-1.18],[-1.1,-1.25],[-1.02,-1.09],
[-0.92,-0.84],[-0.9,-0.81],[-0.86,-0.85],[-0.83,-0.8],[-0.84,-0.82],[-0.76,-0.82],[-0.91,-0.9],[-0.9,-0.93],[-0.92,-0.98],[-0.9,-1.01],[-0.88,-0.93],[-0.83,-0.92],[-0.8,-0.9],[-0.76,-0.89],[-0.75,-0.93],[-0.73,-0.95],[-0.73,-0.98],[-0.76,-1.02],[-0.81,-1.03],[-0.84,-1.09],[-0.83,-1.1],[-0.96,-1.11],[-0.9,-1.05],
[-0.87,-1.25],[-0.84,-1.25],[-0.82,-1.24],[-0.8,-1.25],[-0.79,-1.26],[-0.77,-1.26],[-0.92,-1.35],[-0.9,-1.34],[-0.85,-1.35],[-0.84,-1.35],[-0.68,-1.22],[-0.67,-1.28],[-0.64,-1.26],[-0.6,-1.27],
[-1.58,-1.47],[-1.2,-1.54],[-1.14,-1.52],[-1.04,-1.5],[-0.79,-1.61],[-0.48,-1.49],[-0.39,-1.51],[-0.39,-1.52],[0.13,-1.51],[0.13,-1.52],[-1.52,-0.39],[-1.51,-0.39],[-0.57,-0.13],[-0.56,-0.13],
[-0.12,0.38],[-0.12,0.3],[-0.1,0.33],[-0.07,0.42],[-0.05,0.45],[-0.04,0.4],[-0.03,0.38],[-0.05,0.35],[-0.03,0.3],[-0.01,0.28],[-0.04,0.24],[-0.03,0.47],[-0.02,0.49],[0,0.45],[0.03,0.47],[0.03,0.5],[0.06,0.49],[0.08,0.46],[0.1,0.5],[0.13,0.47],[0.14,0.47],[0.15,0.5],[0.15,0.55],[0.17,0.47],[0.18,0.55],[0.2,0.57],[0.22,0.57],[0.24,0.54],[0.27,0.64],[0.06,0.4],[-0.04,0.42],[-0.06,0.38],
[0.23,0.39],[0.25,0.38],[0.3,0.46],[0.36,0.45],[0.25,0.29],[0.29,0.3],[0.13,0.22],[0.15,0.21],[0.16,0.25],[0.12,0.13],[0.14,0.14],[0.1,0.08],[0.12,0.1],[0.08,0.06],[0.05,0.01],[0.08,0.02],[0.06,-0.03],[0.26,0.09],
[0.3,-0.13],[0.31,-0.13],[0.46,-0.13],[0.48,-0.13],[0.13,-0.3],[0.13,-0.31],[0.05,-0.39],[0.11,-0.39],[0.13,-0.38],
[0.56,-0.31],[0.58,-0.3],[0.6,-0.32],[0.59,-0.35],[0.57,-0.36],[0.58,-0.38],[0.52,-0.33],[0.54,-0.36],[0.56,-0.46],[0.53,-0.47],[0.5,-0.48],[0.47,-0.49],
[0.28,-0.56],[0.29,-0.56],[0.35,-0.49],[0.38,-0.49],[0.39,-0.47],[0.39,-0.52],[0.4,-0.55],[0.42,-0.53],[0.39,-0.63],[0.4,-0.62],[0.45,-0.4],[0.48,-0.56],[0.3,-0.74],[0.3,-0.75],
[0.73,-0.39],[0.74,-0.39],[0.64,-0.93],[0.91,-0.91],[0.9,-0.9],[0.91,-0.89],[1.06,-0.82],[1.25,-0.73],[1.26,-0.74],[1.34,-0.64],[1.34,-0.72],[1.34,-0.74],[1.34,-0.81],[1.34,-0.82],[1.48,-0.87],[1.52,-0.58],[1.42,-0.39],[1.43,-0.39],[1.42,-0.43],[1.48,-0.39],
[1.02,-0.05],[1.04,-0.05],[1.06,-0.04],[1.07,-0.01],[1.08,0],[1.06,-0.11],[1.15,-0.1],[1.16,-0.1],[1.17,-0.09],[1.16,-0.03],
[0.4,0.36],[0.43,0.38],[0.45,0.37],[0.46,0.39],[0.47,0.35],[0.48,0.48],[0.48,0.49],[0.48,0.46],[0.5,0.3],[0.45,0.29],[0.48,0.33],[0.53,0.42],[0.55,0.38],[0.57,0.38],[0.57,0.44],[0.58,0.35],[0.54,0.3],[0.6,0.39],[0.62,0.43],[0.47,0.22],[0.48,0.2],[0.52,0.2],[0.52,0.18],[0.55,0.3],
[0.61,0.06],[0.62,0.11],[0.64,0.1],[0.66,0.08],[0.65,0.03],[0.68,0.05],[0.7,0.05],[0.73,0.03],[0.62,0.22],[0.64,0.2],[0.65,0.16],[0.75,0.13],[0.71,0.13],[0.77,0.08],[0.87,0.14],[0.7,0.24],[0.73,0.25],[0.75,0.22],[0.77,0.17],[0.8,0.2],[0.82,0.25],[0.84,0.2],[0.75,0.39],[0.7,0.37],[0.76,0.4],[0.78,0.38],[0.78,0.32],[0.82,0.38],[0.84,0.27],[0.86,0.29],[0.88,0.3],[0.9,0.28],[0.92,0.32],[0.87,0.41],[0.88,0.45],[0.91,0.47],[0.9,0.42],[0.92,0.4],[0.93,0.35],[0.95,0.38],[0.96,0.34],[0.94,0.3],[0.97,0.4],[0.91,0.55],[0.97,0.53],[0.98,0.22],[0.99,0.23],[0.88,0.35],[0.9,0.35],[0.9,0.38],[0.92,0.43],[0.86,0.35],[0.84,0.32],[0.8,0.26],
[1.03,0.41],[1.06,0.4],[1.09,0.38],[1.1,0.35],[1.14,0.38],[1.09,0.23],[1.13,0.23],
[0.56,0.82],[0.61,0.82],[0.57,0.78],[0.62,0.8],[0.57,0.74],[0.63,0.75],[0.67,0.75],[0.62,0.82],[0.7,0.77],[0.75,0.77],[0.76,0.82],[0.8,0.83],[0.81,0.75],[0.85,0.73],[0.87,0.79],[0.82,0.74],[0.99,0.8],[1,0.83],[0.91,0.95],
[0.73,1.08],[0.73,1.07],[0.73,1],[0.74,1.01],[1.03,1.09],[1.07,1.09],[1.09,1.07],[1.08,1.08],[0.13,0.95],[0.13,0.93],[0.13,0.92],[-0.13,0.99],[-0.05,1],
[-0.13,1.43],[-0.14,1.43],[-0.05,1.51],[-0.05,1.52],[0.07,1.52],[0.08,1.52],[0.15,1.5],[0.21,1.52],[0.22,1.51],[0.29,1.52],[0.3,1.52],[0.34,1.45],[0.39,1.35],[0.4,1.35],[0.49,1.26],[0.5,1.25],
[1.13,1.61],[1.12,1.27],[1.14,1.29],[1.15,1.3],[1.37,1.46],[1.34,1.38],[1.37,1.36],[1.4,1.44],[1.46,1.46],[1.5,1.45],[1.48,1.43],[1.52,1.46],[1.53,1.42],[1.55,1.42],
[1.27,0.92],[1.34,0.97],[1.35,0.98],[1.34,1],[1.3,0.82],[1.38,0.83],[1.4,0.8],[1.45,0.83],[1.46,0.77],[1.48,0.83],[1.5,0.81],[1.53,0.83],[1.47,0.8],[1.55,0.83],
[1.33,0.73],[1.34,0.74],[1.34,0.66],[1.41,0.66],[1.44,0.65],[1.48,0.65],[1.5,0.65],[1.51,0.65],[1.43,0.57],[1.45,0.58],[1.46,0.59],[1.43,0.51],[1.42,0.48],[1.43,0.49],[1.56,0.57]
];

const svgNS = 'http://www.w3.org/2000/svg';
const svg = document.getElementById('chart');
const axesTop = 35;
const axesBottom = 561.5;
const panels = [
  {key:'pca', left:54.5, right:693.5, xlim:[-8.32,8.88], ylim:[-17.39,7.26], xTicks:pcaXTicks, yTicks:pcaYTicks, points:pcaPoints, decimals:0, radius:5.8, opacity:0.82},
  {key:'tsne', left:751.5, right:1390.5, xlim:[-21.5,26.76], ylim:[-19.96,21.4], xTicks:tsneXTicks, yTicks:tsneYTicks, points:tsnePoints, decimals:0, radius:6.3, opacity:0.97},
  {key:'umap', left:1449, right:2088, xlim:[-5.98,21.87], ylim:[-12.54,15.17], xTicks:umapXTicks, yTicks:umapYTicks, points:umapPoints, decimals:0, radius:6.3, opacity:0.95},
  {key:'gtm', left:2146.5, right:2785.5, xlim:[-1.855,1.725], ylim:[-1.772,1.817], xTicks:gtmXTicks, yTicks:gtmYTicks, points:gtmPoints, decimals:1, radius:5.8, opacity:0.85}
];

function formatTick(value, decimals) {
  const body = Math.abs(value).toFixed(decimals);
  return value < 0 ? '\u2212' + body : body;
}

function drawPanel(panel) {
  const group = document.createElementNS(svgNS, 'g');
  
  
  svg.appendChild(group);

  const xScale = v => panel.left + (v - panel.xlim[0]) / (panel.xlim[1] - panel.xlim[0]) * (panel.right - panel.left);
  const yScale = v => axesBottom - (v - panel.ylim[0]) / (panel.ylim[1] - panel.ylim[0]) * (axesBottom - axesTop);

  for (const point of panel.points) {
    const dot = document.createElementNS(svgNS, 'circle');
    
    
    dot.setAttribute('cx', xScale(point[0]).toFixed(2));
    dot.setAttribute('cy', yScale(point[1]).toFixed(2));
    dot.setAttribute('r', panel.radius);
    dot.setAttribute('fill', '#1f77b4');
    dot.setAttribute('fill-opacity', panel.opacity);
    group.appendChild(dot);
  }

  const frame = document.createElementNS(svgNS, 'rect');
  
  
  frame.setAttribute('x', panel.left);
  frame.setAttribute('y', axesTop);
  frame.setAttribute('width', panel.right - panel.left);
  frame.setAttribute('height', axesBottom - axesTop);
  frame.setAttribute('fill', 'none');
  frame.setAttribute('stroke', '#000');
  frame.setAttribute('stroke-width', '1.1');
  group.appendChild(frame);

  for (const value of panel.xTicks) {
    const x = xScale(value);
    const mark = document.createElementNS(svgNS, 'line');
    
    
    mark.setAttribute('x1', x);
    mark.setAttribute('x2', x);
    mark.setAttribute('y1', axesBottom);
    mark.setAttribute('y2', axesBottom + 4.9);
    mark.setAttribute('stroke', '#000');
    mark.setAttribute('stroke-width', '1.1');
    group.appendChild(mark);
    const label = document.createElementNS(svgNS, 'text');
    
    
    label.setAttribute('class', 'tick');
    label.setAttribute('x', x);
    label.setAttribute('y', 582);
    label.setAttribute('text-anchor', 'middle');
    label.textContent = formatTick(value, panel.decimals);
    group.appendChild(label);
  }

  for (const value of panel.yTicks) {
    const y = yScale(value);
    const mark = document.createElementNS(svgNS, 'line');
    
    
    mark.setAttribute('x1', panel.left - 4.9);
    mark.setAttribute('x2', panel.left);
    mark.setAttribute('y1', y);
    mark.setAttribute('y2', y);
    mark.setAttribute('stroke', '#000');
    mark.setAttribute('stroke-width', '1.1');
    group.appendChild(mark);
    const label = document.createElementNS(svgNS, 'text');
    
    
    label.setAttribute('class', 'tick');
    label.setAttribute('x', panel.left - 10.5);
    label.setAttribute('y', y + 5.3);
    label.setAttribute('text-anchor', 'end');
    label.textContent = formatTick(value, panel.decimals);
    group.appendChild(label);
  }
}

panels.forEach(drawPanel);
</script>
</body>
</html>
